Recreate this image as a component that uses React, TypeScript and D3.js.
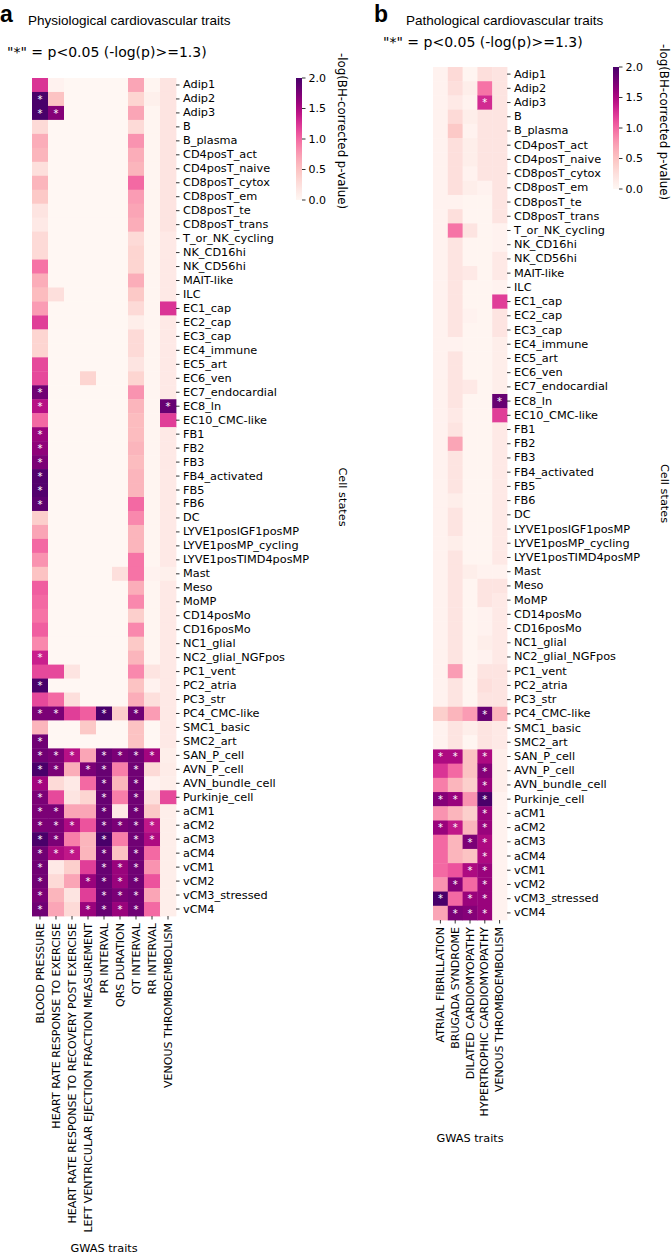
import React from 'react';
import * as d3 from 'd3';

const cellStates = [
  'Adip1', 'Adip2', 'Adip3', 'B', 'B_plasma', 'CD4posT_act', 'CD4posT_naive', 'CD8posT_cytox', 'CD8posT_em', 'CD8posT_te',
  'CD8posT_trans', 'T_or_NK_cycling', 'NK_CD16hi', 'NK_CD56hi', 'MAIT-like', 'ILC', 'EC1_cap', 'EC2_cap', 'EC3_cap', 'EC4_immune',
  'EC5_art', 'EC6_ven', 'EC7_endocardial', 'EC8_ln', 'EC10_CMC-like', 'FB1', 'FB2', 'FB3', 'FB4_activated', 'FB5',
  'FB6', 'DC', 'LYVE1posIGF1posMP', 'LYVE1posMP_cycling', 'LYVE1posTIMD4posMP', 'Mast', 'Meso', 'MoMP', 'CD14posMo', 'CD16posMo',
  'NC1_glial', 'NC2_glial_NGFpos', 'PC1_vent', 'PC2_atria', 'PC3_str', 'PC4_CMC-like', 'SMC1_basic', 'SMC2_art', 'SAN_P_cell', 'AVN_P_cell',
  'AVN_bundle_cell', 'Purkinje_cell', 'aCM1', 'aCM2', 'aCM3', 'aCM4', 'vCM1', 'vCM2', 'vCM3_stressed', 'vCM4',
];

const physioTraits = [
  'BLOOD PRESSURE', 'HEART RATE RESPONSE TO EXERCISE', 'HEART RATE RESPONSE TO RECOVERY POST EXERCISE',
  'LEFT VENTRICULAR EJECTION FRACTION MEASUREMENT', 'PR INTERVAL', 'QRS DURATION', 'QT INTERVAL', 'RR INTERVAL',
  'VENOUS THROMBOEMBOLISM',
];

const pathoTraits = [
  'ATRIAL FIBRILLATION', 'BRUGADA SYNDROME', 'DILATED CARDIOMYOPATHY', 'HYPERTROPHIC CARDIOMYOPATHY', 'VENOUS THROMBOEMBOLISM',
];

const colorbarTicks = [0, 0.5, 1.0, 1.5, 2.0];

// -log10(BH-corrected p) — physiological traits
const bloodPressure = [
  1.25, 2.0, 2.0, 0.3, 0.65, 0.6, 0.25, 0.6, 0.45, 0.2,
  0.15, 0.3, 0.3, 0.95, 0.65, 0.55, 0.75, 1.2, 0.35, 0.35,
  1.15, 1.15, 1.8, 1.45, 1.0, 1.6, 1.65, 1.75, 1.95, 1.95,
  1.9, 0.4, 0.7, 1.0, 0.8, 0.5, 1.05, 1.0, 0.95, 1.05,
  0.85, 1.35, 1.15, 2.0, 1.15, 1.75, 0.6, 1.8, 1.8, 2.0,
  1.55, 1.75, 1.75, 1.75, 2.0, 1.8, 1.8, 1.8, 1.75, 1.8,
];
const hrExercise = [
  0.05, 0.5, 1.7, 0, 0, 0, 0, 0, 0, 0,
  0, 0, 0, 0, 0, 0.25, 0, 0, 0, 0,
  0, 0, 0, 0, 0, 0, 0, 0, 0, 0,
  0, 0, 0, 0, 0, 0, 0, 0, 0, 0,
  0, 0, 1.15, 0, 1.0, 1.75, 0, 0, 1.75, 1.75,
  0.3, 1.15, 1.75, 1.75, 1.75, 1.5, 0.15, 0.3, 0.6, 0.7,
];
const hrRecovery = [
  0, 0, 0, 0, 0, 0, 0, 0, 0, 0,
  0, 0, 0, 0, 0, 0, 0, 0, 0, 0,
  0, 0, 0, 0, 0, 0, 0, 0, 0, 0,
  0, 0, 0, 0, 0, 0, 0, 0, 0, 0,
  0, 0, 0.2, 0, 0.25, 1.2, 0, 0, 1.45, 0.65,
  0.15, 0.2, 0.7, 1.5, 0.9, 1.4, 0.4, 0.7, 0.2, 0.3,
];
const lvef = [
  0, 0, 0, 0, 0, 0, 0, 0, 0, 0,
  0, 0, 0, 0, 0, 0, 0, 0, 0, 0,
  0, 0.35, 0, 0, 0, 0, 0, 0, 0, 0,
  0, 0, 0, 0, 0, 0, 0, 0, 0, 0,
  0, 0, 0, 0, 0, 1.05, 0.45, 0, 0.7, 1.75,
  1.0, 0.35, 0.7, 1.1, 0.6, 0.6, 1.2, 1.6, 1.2, 1.6,
];
const prInterval = [
  0, 0, 0, 0, 0, 0, 0, 0, 0, 0,
  0, 0, 0, 0, 0, 0, 0, 0, 0, 0,
  0, 0, 0, 0, 0, 0, 0, 0, 0, 0,
  0, 0, 0, 0, 0, 0, 0, 0, 0, 0,
  0, 0, 0, 0, 0, 2.0, 0, 0, 1.85, 1.85,
  1.85, 1.85, 1.85, 1.85, 2.0, 1.85, 1.85, 1.85, 1.85, 1.85,
];
const qrsDuration = [
  0, 0, 0, 0, 0, 0, 0, 0, 0, 0,
  0, 0, 0, 0, 0, 0, 0, 0, 0, 0,
  0, 0, 0, 0, 0, 0, 0, 0, 0, 0,
  0, 0, 0, 0, 0, 0.25, 0, 0, 0, 0,
  0, 0, 0, 0, 0, 0.4, 0, 0, 1.75, 0.9,
  0.6, 0.9, 0.15, 1.75, 0.9, 0.5, 1.6, 1.6, 1.75, 1.6,
];
const qtInterval = [
  0.7, 0.35, 0.7, 0.3, 0.8, 0.65, 0.6, 1.0, 0.75, 0.7,
  0.65, 0.3, 0.35, 0.35, 0.65, 0.45, 0.3, 0.1, 0.3, 0.3,
  0.2, 0.35, 0.8, 0.6, 0.55, 0.55, 0.6, 0.55, 0.6, 0.6,
  1.0, 0.85, 0.6, 0.6, 0.95, 0.95, 0.65, 0.85, 0.4, 0.85,
  0.45, 0.6, 0.85, 0.5, 0.65, 1.8, 0.5, 0.5, 1.8, 1.8,
  1.8, 1.8, 1.8, 1.8, 1.8, 1.8, 1.8, 1.8, 1.8, 1.8,
];
const rrInterval = [
  0.02, 0.08, 0.02, 0.02, 0.02, 0.02, 0.02, 0.02, 0.02, 0.02,
  0.02, 0.02, 0.02, 0.02, 0.02, 0.02, 0.02, 0.02, 0.02, 0.02,
  0.02, 0.02, 0.02, 0.02, 0.02, 0.02, 0.02, 0.02, 0.02, 0.02,
  0.02, 0.02, 0.02, 0.02, 0.02, 0.05, 0.02, 0.02, 0.02, 0.02,
  0.02, 0.02, 0.2, 0.05, 0.25, 0.75, 0, 0, 1.55, 0.3,
  0.05, 0.25, 0.45, 1.4, 1.5, 1.0, 0.8, 1.1, 0.7, 1.0,
];
const vteA = [
  0.2, 0.2, 0.2, 0.2, 0.2, 0.2, 0.2, 0.2, 0.2, 0.2,
  0.2, 0.15, 0.15, 0.15, 0.15, 0.15, 1.25, 0.15, 0.15, 0.15,
  0.15, 0.15, 0.15, 1.85, 1.2, 0.15, 0.15, 0.15, 0.15, 0.15,
  0.15, 0.15, 0.15, 0.15, 0.15, 0.08, 0.15, 0.15, 0.15, 0.15,
  0.15, 0.15, 0.15, 0.15, 0.15, 0.15, 0.15, 0.15, 0.1, 0.12,
  0.1, 1.15, 0.1, 0.1, 0.1, 0.1, 0.1, 0.1, 0.1, 0.1,
];

// pathological traits
const atrialFibrillation = [
  0.05, 0.05, 0.05, 0.05, 0.05, 0.05, 0.05, 0.05, 0.05, 0.05,
  0.05, 0.05, 0.05, 0.05, 0.05, 0.05, 0.05, 0.05, 0.05, 0.05,
  0.05, 0.05, 0.05, 0.05, 0.05, 0.05, 0.05, 0.05, 0.05, 0.05,
  0.05, 0.05, 0.05, 0.05, 0.05, 0.05, 0.05, 0.05, 0.05, 0.05,
  0.05, 0.05, 0.05, 0.05, 0.05, 0.4, 0.05, 0.05, 1.5, 1.25,
  0.9, 1.7, 0.8, 1.6, 1.0, 1.0, 1.0, 0.8, 2.0, 0.7,
];
const brugada = [
  0.3, 0.25, 0.15, 0.3, 0.45, 0.25, 0.25, 0.25, 0.25, 0.05,
  0.25, 0.95, 0.2, 0.2, 0.2, 0.2, 0.2, 0.2, 0.2, 0.05,
  0.2, 0.2, 0.2, 0.2, 0.15, 0.2, 0.7, 0.2, 0.2, 0.2,
  0.1, 0.2, 0.2, 0.1, 0.2, 0.2, 0.2, 0.2, 0.2, 0.2,
  0.2, 0.2, 0.75, 0.2, 0.2, 0.6, 0.2, 0.2, 1.5, 1.0,
  0.6, 1.6, 0.6, 1.4, 0.6, 0.6, 1.1, 1.7, 1.0, 1.75,
];
const dilatedCM = [
  0.02, 0.1, 0.05, 0.1, 0.05, 0.1, 0.1, 0.05, 0.1, 0.02,
  0.02, 0.2, 0.02, 0.02, 0.15, 0.02, 0.02, 0.05, 0.02, 0.02,
  0.02, 0.02, 0.15, 0.02, 0.02, 0.02, 0.02, 0.02, 0.02, 0.02,
  0.02, 0.02, 0.02, 0.02, 0.02, 0.1, 0.02, 0.02, 0.02, 0.02,
  0.02, 0.02, 0.02, 0.02, 0.02, 0.75, 0.1, 0.02, 0.5, 0.5,
  0.4, 0.8, 0.4, 0.6, 1.75, 0.5, 1.5, 1.0, 1.6, 1.7,
];
const hypertrophicCM = [
  0.25, 0.95, 1.3, 0.2, 0.2, 0.2, 0.2, 0.2, 0.05, 0.02,
  0.02, 0.02, 0.02, 0.02, 0.02, 0.02, 0.02, 0.02, 0.02, 0.02,
  0.02, 0.02, 0.02, 0.02, 0.02, 0.02, 0.02, 0.02, 0.02, 0.02,
  0.02, 0.02, 0.02, 0.02, 0.02, 0.05, 0.2, 0.2, 0.05, 0.05,
  0.1, 0.05, 0.2, 0.25, 0.2, 1.85, 0.2, 0.2, 1.5, 1.7,
  1.6, 2.0, 1.6, 1.6, 1.5, 1.5, 1.6, 1.6, 1.6, 1.6,
];
const vteB = [
  0.2, 0.2, 0.2, 0.2, 0.2, 0.2, 0.2, 0.2, 0.2, 0.2,
  0.2, 0.05, 0.05, 0.15, 0.15, 0.05, 1.2, 0.2, 0.2, 0.1,
  0.1, 0.1, 0.1, 1.85, 1.2, 0.15, 0.15, 0.15, 0.15, 0.15,
  0.15, 0.15, 0.15, 0.15, 0.15, 0.05, 0.2, 0.15, 0.15, 0.15,
  0.15, 0.15, 0.2, 0.2, 0.2, 0.6, 0.15, 0.15, 0.1, 0.1,
  0.1, 0.05, 0.05, 0.05, 0.05, 0.05, 0.05, 0.05, 0.05, 0.05,
];

const physioValues = [bloodPressure, hrExercise, hrRecovery, lvef, prInterval, qrsDuration, qtInterval, rrInterval, vteA];
const pathoValues = [atrialFibrillation, brugada, dilatedCM, hypertrophicCM, vteB];

const SIG = 1.3;
const VMAX = 2.0;
const color = (v: number) => d3.interpolateRdPu(Math.max(0, Math.min(1, v / VMAX)));
const FONT = 'DejaVu Sans, sans-serif';
const TITLE_FONT = 'Liberation Sans, Arial, sans-serif';

type PanelProps = {
  letter: string;
  title: string;
  traits: string[];
  values: number[][];
  x0: number; y0: number; width: number; height: number;
  letterX: number; titleX: number; subX: number; subY: number;
  cbX: number; cbY: number; cbTitleX: number; cbTitleY: number;
  cellLabelX: number; gwasY: number;
  gradId: string;
};

function Panel(p: PanelProps) {
  const xs = d3.scaleBand<string>().domain(p.traits).range([p.x0, p.x0 + p.width]);
  const ys = d3.scaleBand<string>().domain(cellStates).range([p.y0, p.y0 + p.height]);
  const cbH = 122, cbW = 6;
  const cbScale = d3.scaleLinear().domain([0, VMAX]).range([p.cbY + cbH, p.cbY]);
  const bottom = p.y0 + p.height;
  const right = p.x0 + p.width;
  const stops = d3.range(0, 1.0001, 0.05);
  return (
    <g>
      <defs>
        <linearGradient id={p.gradId} x1="0" y1="1" x2="0" y2="0">
          {stops.map((t) => (
            <stop key={t} offset={t} stopColor={d3.interpolateRdPu(t)} />
          ))}
        </linearGradient>
      </defs>
      <text x={p.letterX} y={22} fontFamily={TITLE_FONT} fontWeight="bold" fontSize={23}>{p.letter}</text>
      <text x={p.titleX} y={25} fontFamily={TITLE_FONT} fontSize={13.5}>{p.title}</text>
      <text x={p.subX} y={p.subY} fontFamily={FONT} fontSize={14}>{'"*" = p<0.05 (-log(p)>=1.3)'}</text>
      {p.traits.map((t, ci) =>
        cellStates.map((c, ri) => {
          const v = p.values[ci][ri];
          return (
            <rect key={t + c} x={xs(t)!} y={ys(c)!} width={xs.bandwidth() + 0.4} height={ys.bandwidth() + 0.4}
              fill={color(v)} />
          );
        })
      )}
      {p.traits.map((t, ci) =>
        cellStates.map((c, ri) => {
          const v = p.values[ci][ri];
          if (v < SIG) return null;
          return (
            <text key={'s' + t + c} x={xs(t)! + xs.bandwidth() / 2} y={ys(c)! + ys.bandwidth() / 2 + 3.8}
              textAnchor="middle" fontFamily={FONT} fontSize={10} fill="#ffffff">*</text>
          );
        })
      )}
      {cellStates.map((c) => {
        const y = ys(c)! + ys.bandwidth() / 2;
        return (
          <g key={'yl' + c}>
            <line x1={right} x2={right + 3.5} y1={y} y2={y} stroke="#000" strokeWidth={0.8} />
            <text x={right + 7} y={y} dominantBaseline="central" fontFamily={FONT} fontSize={11.3}>{c}</text>
          </g>
        );
      })}
      {p.traits.map((t) => {
        const x = xs(t)! + xs.bandwidth() / 2;
        return (
          <g key={'xl' + t}>
            <line x1={x} x2={x} y1={bottom} y2={bottom + 3.5} stroke="#000" strokeWidth={0.8} />
            <text transform={`translate(${x},${bottom + 7}) rotate(-90)`} textAnchor="end" dominantBaseline="central"
              fontFamily={FONT} fontSize={11}>{t}</text>
          </g>
        );
      })}
      <text x={p.x0 + p.width / 2} y={p.gwasY} textAnchor="middle" fontFamily={FONT} fontSize={11.3}>GWAS traits</text>
      <text transform={`translate(${p.cellLabelX},${p.y0 + p.height / 2}) rotate(90)`} textAnchor="middle"
        dominantBaseline="central" fontFamily={FONT} fontSize={11.3}>Cell states</text>
      <rect x={p.cbX} y={p.cbY} width={cbW} height={cbH} fill={`url(#${p.gradId})`} />
      {colorbarTicks.map((t) => (
        <g key={'cb' + t}>
          <line x1={p.cbX + cbW} x2={p.cbX + cbW + 3.5} y1={cbScale(t)} y2={cbScale(t)} stroke="#000" strokeWidth={0.8} />
          <text x={p.cbX + cbW + 6.5} y={cbScale(t)} dominantBaseline="central" fontFamily={FONT} fontSize={11}>
            {d3.format('.1f')(t)}
          </text>
        </g>
      ))}
      <text transform={`translate(${p.cbTitleX},${p.cbTitleY}) rotate(90)`} textAnchor="start" dominantBaseline="central"
        fontFamily={FONT} fontSize={11.8}>-log(BH-corrected p-value)</text>
    </g>
  );
}

export default function App() {
  return (
    <svg width={672} height={1260} style={{ position: 'absolute', left: 0, top: 0, background: '#fff' }}>
      <rect x={0} y={0} width={672} height={1260} fill="#fff" />
      <Panel letter="a" title="Physiological cardiovascular traits" traits={physioTraits} values={physioValues}
        x0={32} y0={78} width={144} height={838}
        letterX={0} titleX={28} subX={7} subY={57}
        cbX={296} cbY={78} cbTitleX={342} cbTitleY={53}
        cellLabelX={342} gwasY={1252} gradId="gradA" />
      <Panel letter="b" title="Pathological cardiovascular traits" traits={pathoTraits} values={pathoValues}
        x0={433} y0={67} width={74} height={853}
        letterX={374} titleX={406} subX={383} subY={47}
        cbX={613} cbY={67} cbTitleX={664} cbTitleY={44}
        cellLabelX={664} gwasY={1142} gradId="gradB" />
    </svg>
  );
}
